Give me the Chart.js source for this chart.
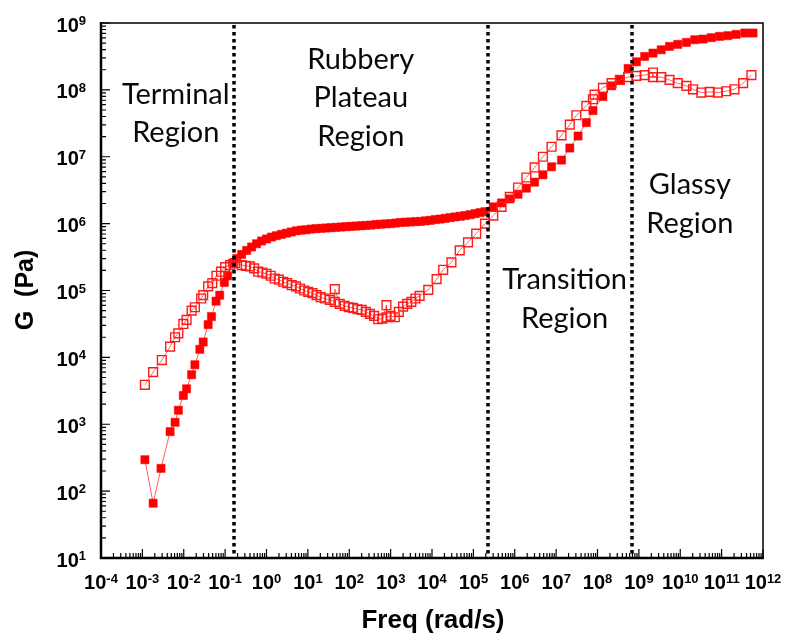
<!DOCTYPE html>
<html>
<head>
<meta charset="utf-8">
<script src="https://cdn.jsdelivr.net/npm/chart.js@4.4.0/dist/chart.umd.min.js"></script>
<style>
  html, body { margin: 0; padding: 0; background: #fff; }
  #wrap { width: 786px; height: 641px; }
</style>
</head>
<body>
<div id="wrap"><canvas id="chart" width="786" height="641"></canvas></div>
<script>
// storage modulus G' (filled squares)
const storageFreq = [
  1.15e-3, 1.82e-3, 2.82e-3, 4.68e-3, 6.17e-3, 7.41e-3, 9.77e-3, 1.17e-2, 1.55e-2, 1.86e-2,
  2.45e-2, 2.95e-2, 3.89e-2, 4.68e-2, 6.03e-2, 7.41e-2, 9.55e-2, 0.115, 0.151, 0.191,
  0.251, 0.331, 0.437, 0.575, 0.76, 1.0, 1.32, 1.74, 2.29, 3.02,
  3.98, 5.25, 6.92, 9.12, 12.0, 15.8, 20.9, 27.5, 36.3, 47.9,
  63.1, 83.2, 110, 145, 191, 251, 331, 437, 575, 759,
  1000, 1320, 1740, 2290, 3020, 3980, 5250, 6920, 9120, 1.2e4,
  1.58e4, 2.09e4, 2.75e4, 3.63e4, 4.79e4, 6.31e4, 8.32e4, 1.1e5, 1.45e5, 1.91e5,
  3.02e5, 4.79e5, 7.59e5, 1.2e6, 1.91e6, 3.02e6, 4.79e6, 7.76e6, 1.35e7, 2.14e7,
  3.39e7, 5.37e7, 7.76e7, 1.35e8, 2.19e8, 3.47e8, 5.5e8, 8.71e8, 1.38e9, 2.19e9,
  3.47e9, 5.5e9, 8.71e9, 1.41e10, 2.24e10, 3.55e10, 5.62e10, 8.91e10, 1.41e11, 2.24e11,
  3.63e11, 5.75e11
];
const storageModulus = [
  295, 66, 219, 776, 1070, 1620, 2690, 3390, 5500, 7760,
  1.32e4, 1.70e4, 3.09e4, 4.07e4, 6.92e4, 8.51e4, 1.32e5, 1.66e5, 2.57e5, 3.02e5,
  3.47e5, 3.98e5, 4.47e5, 5.0e5, 5.5e5, 5.9e5, 6.3e5, 6.6e5, 6.9e5, 7.2e5,
  7.5e5, 7.8e5, 8.0e5, 8.1e5, 8.3e5, 8.4e5, 8.5e5, 8.6e5, 8.7e5, 8.8e5,
  8.9e5, 9.0e5, 9.1e5, 9.2e5, 9.3e5, 9.4e5, 9.5e5, 9.7e5, 9.8e5, 9.9e5,
  1.0e6, 1.02e6, 1.04e6, 1.05e6, 1.06e6, 1.07e6, 1.08e6, 1.10e6, 1.12e6, 1.15e6,
  1.17e6, 1.20e6, 1.23e6, 1.26e6, 1.29e6, 1.32e6, 1.36e6, 1.41e6, 1.46e6, 1.51e6,
  1.78e6, 2.04e6, 2.34e6, 2.75e6, 3.39e6, 4.17e6, 5.37e6, 7.08e6, 8.91e6, 1.35e7,
  2.04e7, 3.24e7, 4.9e7, 7.94e7, 1.15e8, 1.41e8, 2.09e8, 2.63e8, 3.16e8, 3.55e8,
  3.98e8, 4.47e8, 4.79e8, 5.13e8, 5.62e8, 5.75e8, 6.03e8, 6.31e8, 6.46e8, 6.76e8,
  7.08e8, 7.08e8
];

// loss modulus G'' (open squares)
const lossFreq = [
  1.15e-3, 1.82e-3, 2.95e-3, 4.68e-3, 6.17e-3, 7.41e-3, 9.77e-3, 1.17e-2, 1.55e-2, 1.86e-2,
  2.63e-2, 2.95e-2, 3.89e-2, 4.9e-2, 6.17e-2, 7.94e-2, 0.1, 0.132, 0.174, 0.251,
  0.316, 0.398, 0.501, 0.631, 0.794, 1.0, 1.26, 1.58, 2.0, 2.51,
  3.16, 4.07, 5.13, 6.46, 8.13, 10.2, 12.9, 16.2, 20.4, 25.7,
  33.9, 44.7, 44.7, 58.9, 77.6, 97.7, 123, 158, 200, 251,
  316, 398, 501, 631, 794, 794, 1000, 1260, 1580, 2000,
  2510, 3160, 3980, 5010, 8130, 1.29e4, 1.86e4, 2.95e4, 4.68e4, 7.41e4,
  1.17e5, 1.91e5, 3.02e5, 4.79e5, 7.59e5, 1.2e6, 1.91e6, 3.02e6, 4.79e6, 7.76e6,
  1.35e7, 2.14e7, 3.09e7, 5.37e7, 7.76e7, 8.51e7, 1.35e8, 2.19e8, 3.47e8, 5.5e8,
  8.71e8, 1.38e9, 2.19e9, 2.19e9, 3.47e9, 5.5e9, 8.71e9, 1.41e10, 2.04e10, 3.24e10,
  5.13e10, 8.13e10, 1.29e11, 2.04e11, 3.31e11, 5.25e11
];
const lossModulus = [
  3890, 6030, 9120, 1.45e4, 2.0e4, 2.29e4, 3.16e4, 3.63e4, 5.01e4, 5.62e4,
  7.59e4, 8.51e4, 1.15e5, 1.29e5, 1.66e5, 1.91e5, 2.24e5, 2.4e5, 2.57e5, 2.4e5,
  2.34e5, 2.29e5, 2.14e5, 1.91e5, 1.86e5, 1.78e5, 1.66e5, 1.51e5, 1.45e5, 1.35e5,
  1.29e5, 1.20e5, 1.15e5, 1.07e5, 1.0e5, 9.55e4, 9.12e4, 8.51e4, 7.94e4, 7.59e4,
  7.24e4, 6.76e4, 1.05e5, 6.31e4, 5.89e4, 5.62e4, 5.5e4, 5.25e4, 5.13e4, 4.79e4,
  4.47e4, 4.17e4, 3.72e4, 3.80e4, 6.03e4, 3.98e4, 4.17e4, 3.98e4, 4.79e4, 5.75e4,
  6.31e4, 6.76e4, 7.59e4, 8.32e4, 1.02e5, 1.48e5, 2.04e5, 2.63e5, 3.98e5, 5.25e5,
  7.08e5, 1.0e6, 1.32e6, 1.78e6, 2.51e6, 3.47e6, 4.9e6, 6.92e6, 1.0e7, 1.41e7,
  2.09e7, 3.02e7, 4.17e7, 5.75e7, 7.24e7, 8.51e7, 1.07e8, 1.26e8, 1.41e8, 1.55e8,
  1.62e8, 1.66e8, 1.82e8, 1.55e8, 1.55e8, 1.41e8, 1.26e8, 1.15e8, 1.02e8, 9.12e7,
  9.33e7, 9.12e7, 9.55e7, 1.02e8, 1.26e8, 1.66e8
];

// 轴刻度（10 的幂）
const xTickExponents = [-4, -3, -2, -1, 0, 1, 2, 3, 4, 5, 6, 7, 8, 9, 10, 11, 12];
const yTickExponents = [1, 2, 3, 4, 5, 6, 7, 8, 9];

// 区域分界线和标注
const regionBounds = [0.16, 2.3e5, 6.8e8];
const regionLabels = [
  ['Terminal', 'Region'],
  ['Rubbery', 'Plateau', 'Region'],
  ['Transition', 'Region'],
  ['Glassy', 'Region']
];
const regionAnchors = [[6.4e-3, 4.4e7], [190, 7.6e7], [1.6e7, 7.4e4], [1.7e10, 1.95e6]];

const xTitle = 'Freq (rad/s)';
const yTitle = 'G  (Pa)';

function toPoints(xs, ys) {
  return xs.map((x, i) => ({ x: x, y: ys[i] }));
}

// 画 10 的幂次标签（y 为基线）
function drawPower(ctx, x, y, exp, align) {
  const baseFont = "bold 20px 'Liberation Sans', Arial, sans-serif";
  const expFont = "bold 13px 'Liberation Sans', Arial, sans-serif";
  ctx.font = baseFont;
  const bw = ctx.measureText('10').width;
  ctx.font = expFont;
  const es = String(exp);
  const ew = ctx.measureText(es).width;
  const total = bw + ew;
  let left = x;
  if (align === 'center') left = x - total / 2;
  if (align === 'right') left = x - total;
  ctx.textAlign = 'left';
  ctx.textBaseline = 'alphabetic';
  ctx.font = baseFont;
  ctx.fillText('10', left, y);
  ctx.font = expFont;
  ctx.fillText(es, left + bw, y - 6.5);
}

const axesPlugin = {
  id: 'axesPlugin',
  afterDatasetsDraw(chart) {
    const ctx = chart.ctx;
    const xs = chart.scales.x;
    const ys = chart.scales.y;
    const a = chart.chartArea;
    ctx.save();
    // 分界虚线
    ctx.strokeStyle = '#000';
    ctx.lineWidth = 3.5;
    ctx.setLineDash([3.5, 3.5]);
    regionBounds.forEach(v => {
      const px = Math.round(xs.getPixelForValue(v));
      ctx.beginPath();
      ctx.moveTo(px, a.top + 2);
      ctx.lineTo(px, a.bottom);
      ctx.stroke();
    });
    ctx.setLineDash([]);

    // 区域文字
    ctx.fillStyle = '#0a0a0a';
    ctx.font = "29px Lato, 'Open Sans', sans-serif";
    ctx.textAlign = 'center';
    ctx.textBaseline = 'middle';
    regionLabels.forEach((lines, i) => {
      const cx = xs.getPixelForValue(regionAnchors[i][0]);
      const cy = ys.getPixelForValue(regionAnchors[i][1]);
      const lh = 38.5;
      lines.forEach((t, j) => {
        ctx.fillText(t, cx, cy + (j - (lines.length - 1) / 2) * lh);
      });
    });

    // 边框
    ctx.strokeStyle = '#000';
    ctx.lineWidth = 1.5;
    ctx.beginPath();
    ctx.moveTo(a.left, a.top);
    ctx.lineTo(a.right, a.top);
    ctx.lineTo(a.right, a.bottom);
    ctx.stroke();
    ctx.lineWidth = 2.5;
    ctx.beginPath();
    ctx.moveTo(a.left, a.top - 1);
    ctx.lineTo(a.left, a.bottom);
    ctx.lineTo(a.right + 1, a.bottom);
    ctx.stroke();

    // 刻度线（朝内）
    ctx.lineWidth = 1.2;
    ctx.beginPath();
    xTickExponents.forEach((e, i) => {
      const px = xs.getPixelForValue(Math.pow(10, e));
      ctx.moveTo(px, a.bottom);
      ctx.lineTo(px, a.bottom - 9);
      if (i < xTickExponents.length - 1) {
        for (let k = 2; k <= 9; k++) {
          const mx = xs.getPixelForValue(k * Math.pow(10, e));
          ctx.moveTo(mx, a.bottom);
          ctx.lineTo(mx, a.bottom - 5);
        }
      }
    });
    yTickExponents.forEach((e, i) => {
      const py = ys.getPixelForValue(Math.pow(10, e));
      ctx.moveTo(a.left, py);
      ctx.lineTo(a.left + 9, py);
      if (i < yTickExponents.length - 1) {
        for (let k = 2; k <= 9; k++) {
          const my = ys.getPixelForValue(k * Math.pow(10, e));
          ctx.moveTo(a.left, my);
          ctx.lineTo(a.left + 5, my);
        }
      }
    });
    ctx.stroke();

    // 刻度标签
    ctx.fillStyle = '#000';
    xTickExponents.forEach(e => {
      drawPower(ctx, xs.getPixelForValue(Math.pow(10, e)), a.bottom + 31, e, 'center');
    });
    yTickExponents.forEach(e => {
      drawPower(ctx, a.left - 15, ys.getPixelForValue(Math.pow(10, e)) + 8.5, e, 'right');
    });

    // 轴标题
    ctx.font = "bold 26px 'Liberation Sans', Arial, sans-serif";
    ctx.textAlign = 'center';
    ctx.textBaseline = 'middle';
    ctx.fillText(xTitle, (a.left + a.right) / 2 + 1, a.bottom + 63);
    ctx.font = "bold 25px 'Liberation Sans', Arial, sans-serif";
    ctx.translate(26, 290);
    ctx.rotate(-Math.PI / 2);
    ctx.fillText(yTitle, 0, 0);
    ctx.restore();
  }
};

const ctx = document.getElementById('chart').getContext('2d');
const chart = new Chart(ctx, {
  type: 'scatter',
  data: {
    datasets: [
      {
        label: "G''",
        data: toPoints(lossFreq, lossModulus),
        showLine: true,
        borderColor: 'rgba(255, 50, 50, 0.75)',
        borderWidth: 1,
        pointStyle: 'rect',
        pointRadius: 6.2,
        pointBackgroundColor: 'rgba(255, 255, 255, 0)',
        pointBorderColor: '#ff1a1a',
        pointBorderWidth: 1.4,
        order: 1
      },
      {
        label: "G'",
        data: toPoints(storageFreq, storageModulus),
        showLine: true,
        borderColor: 'rgba(255, 40, 40, 0.75)',
        borderWidth: 1,
        pointStyle: 'rect',
        pointRadius: 5.8,
        pointBackgroundColor: '#ff0000',
        pointBorderColor: '#ff0000',
        pointBorderWidth: 0.5,
        order: 2
      }
    ]
  },
  options: {
    responsive: false,
    animation: false,
    layout: { padding: { left: 101, top: 23, right: 23, bottom: 83 } },
    plugins: { legend: { display: false }, tooltip: { enabled: false } },
    scales: {
      x: { type: 'logarithmic', display: false, min: 1e-4, max: 1e12 },
      y: { type: 'logarithmic', display: false, min: 10, max: 1e9 }
    }
  },
  plugins: [axesPlugin]
});
</script>
</body>
</html>
